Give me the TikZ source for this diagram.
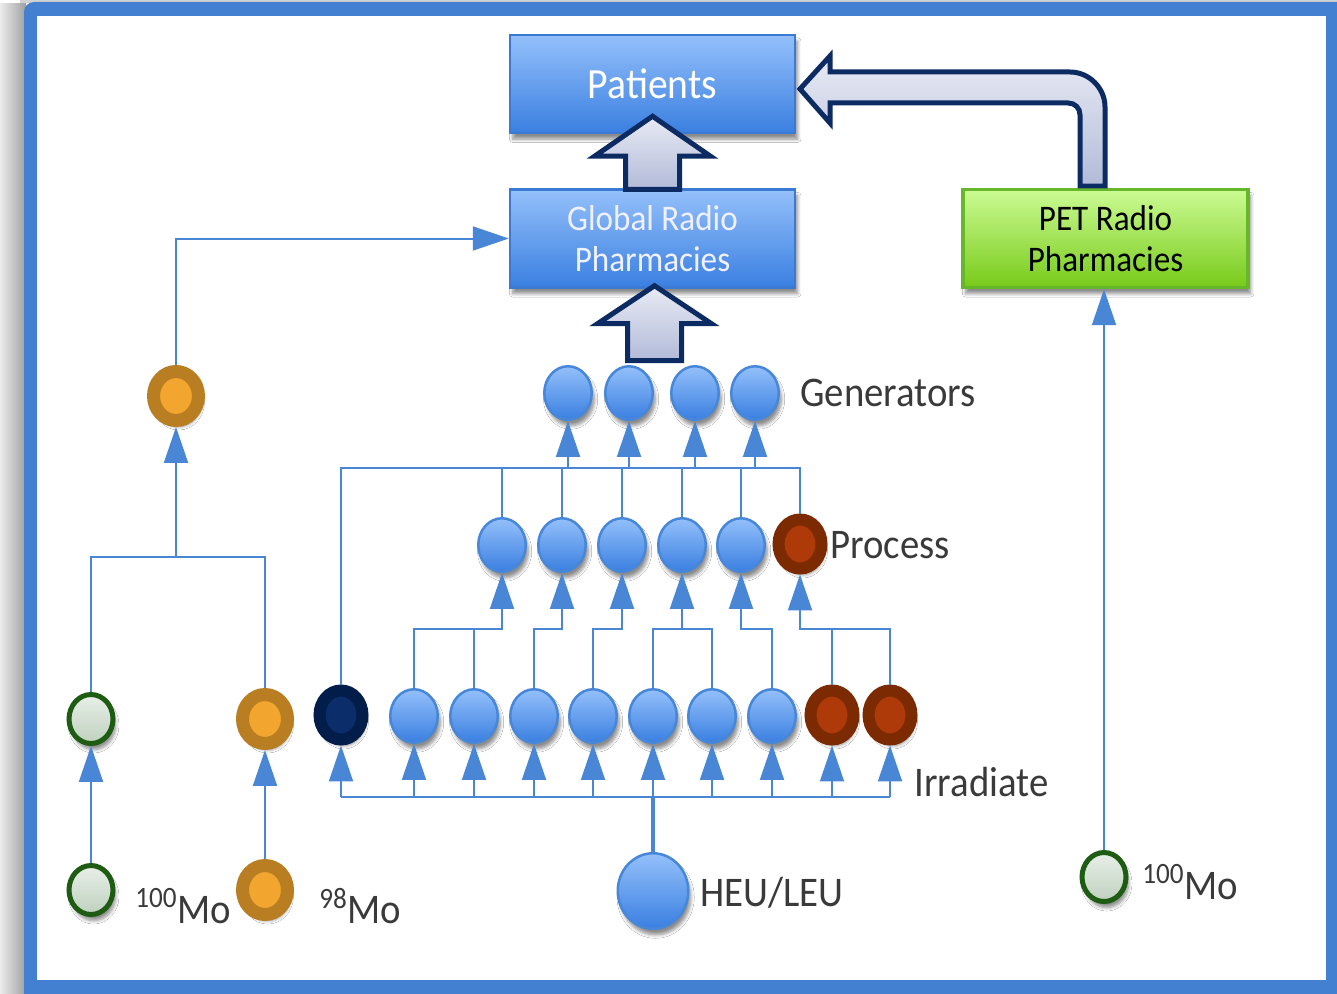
\documentclass[tikz,border=0pt]{standalone}
\usepackage{fontspec}
\setmainfont{Carlito}[FakeStretch=0.92]
\usetikzlibrary{arrows.meta,shapes.geometric,shadows.blur,calc}

\definecolor{frameblue}{HTML}{4380D1}
\definecolor{linkblue}{HTML}{4A86D6}
\definecolor{nodetop}{HTML}{94C0FA}
\definecolor{nodebot}{HTML}{3A7FE1}
\definecolor{nodeedge}{HTML}{4787DA}
\definecolor{boxedge}{HTML}{3B7AD2}
\definecolor{browndark}{HTML}{7B2A02}
\definecolor{brownlight}{HTML}{AE3A0A}
\definecolor{navydark}{HTML}{021D4A}
\definecolor{navylight}{HTML}{0B2D69}
\definecolor{ochredark}{HTML}{B97D22}
\definecolor{ochrelight}{HTML}{F2A52F}
\definecolor{greenring}{HTML}{1D5C12}
\definecolor{greentop}{HTML}{E8EFE8}
\definecolor{greenbot}{HTML}{BFD1BF}
\definecolor{bigedge}{HTML}{0D2B63}
\definecolor{bigtop}{HTML}{E8EBF4}
\definecolor{bigbot}{HTML}{B2BAD8}
\definecolor{pettop}{HTML}{CBFB93}
\definecolor{petbot}{HTML}{78CA1A}
\definecolor{petedge}{HTML}{66B82A}
\definecolor{labelgray}{HTML}{3A3A3A}

\newcommand{\lblfont}{\fontsize{24}{27}\selectfont}
\newcommand{\boxfont}{\fontsize{20.5}{23.5}\selectfont}

\begin{document}
\begin{tikzpicture}[x=0.02cm,y=-0.02cm,
  softshadow/.style={blur shadow={shadow xshift=1.5pt,shadow yshift=-3.5pt,shadow opacity=45,shadow blur steps=6}},
  conn/.style={draw=linkblue,line width=0.04cm},
  feed/.style={conn,-{Triangle[length=0.72cm,width=0.48cm]}},
  bnode/.style={ellipse,inner sep=0pt,minimum width=0.95cm,minimum height=1.07cm,
    draw=nodeedge,line width=0.05cm,top color=nodetop,bottom color=nodebot,softshadow},
  ringnode/.style 2 args={ellipse,inner sep=0pt,minimum width=0.86cm,minimum height=0.98cm,
    draw=#1,fill=#2,line width=0.24cm,softshadow},
  brownnode/.style={ringnode={browndark}{brownlight}},
  navynode/.style={ringnode={navydark}{navylight}},
  ochrenode/.style={ringnode={ochredark}{ochrelight},minimum width=0.9cm,minimum height=0.98cm,line width=0.26cm},
  greennode/.style={ellipse,inner sep=0pt,minimum width=0.88cm,minimum height=0.98cm,
    draw=greenring,line width=0.1cm,top color=greentop,bottom color=greenbot,softshadow},
  bluebox/.style={rectangle,minimum width=5.7cm,minimum height=1.96cm,draw=boxedge,line width=0.05cm,
    top color=nodetop,bottom color=nodebot,softshadow,align=center},
  greenbox/.style={rectangle,minimum width=5.7cm,minimum height=1.96cm,draw=petedge,line width=0.07cm,
    top color=pettop,bottom color=petbot,softshadow,align=center},
  blockarrow/.style={draw=bigedge,line width=0.1cm,line join=miter,top color=bigtop,bottom color=bigbot},
  lbl/.style={text=labelgray,font=\lblfont,anchor=west,inner sep=0pt}
]
\useasboundingbox (0,0) rectangle (1337,993);
\clip (0,0) rectangle (1337,993);

% page frame
\fill[white] (0,0) rectangle (1337,993);
\shade[left color=gray!15,right color=gray!75] (0,4) rectangle (26,993);
\fill[gray!35] (20,0) rectangle (1337,3);
\fill[frameblue,rounded corners=0.2cm] (24,2) rectangle (1370,1030);
\fill[white] (37,16) rectangle (1326,980);

% boxes
\node[bluebox,text=white,font=\fontsize{24.5}{28}\selectfont] (patients) at (652.5,84) {Patients};
\node[bluebox,text=white!94!blue,font=\boxfont] (global) at (652.5,238.5) {Global Radio\\Pharmacies};
\node[greenbox,text=black,font=\boxfont] (pet) at (1105.5,238.5) {PET Radio\\Pharmacies};

% generators
\node[bnode] (g1) at (568,393) {};
\node[bnode] (g2) at (629,393) {};
\node[bnode] (g3) at (695,393) {};
\node[bnode] (g4) at (755,393) {};
\node[lbl] (genlbl) at (800,393) {Generators};

% processing
\node[bnode] (p1) at (502,545) {};
\node[bnode] (p2) at (562,545) {};
\node[bnode] (p3) at (622,545) {};
\node[bnode] (p4) at (682,545) {};
\node[bnode] (p5) at (741,545) {};
\node[brownnode] (p6) at (800,544) {};
\node[lbl] (proclbl) at (830,545) {Process};

% irradiation targets
\node[navynode] (i0) at (341,715) {};
\node[bnode] (i1) at (414,716) {};
\node[bnode] (i2) at (474,716) {};
\node[bnode] (i3) at (534,716) {};
\node[bnode] (i4) at (593,716) {};
\node[bnode] (i5) at (653,716) {};
\node[bnode] (i6) at (712,716) {};
\node[bnode] (i7) at (772,716) {};
\node[brownnode] (i8) at (832,715) {};
\node[brownnode] (i9) at (890,715) {};
\node[lbl] (irrlbl) at (914,782) {Irradiate};

% uranium source
\node[bnode,minimum width=1.41cm,minimum height=1.51cm] (heu) at (653,891) {};
\node[lbl] (heulbl) at (700,893) {HEU/LEU};

% accelerator route (left)
\node[greennode] (ga) at (91,719) {};
\node[greennode] (gb) at (91,890) {};
\node[ochrenode] (oa) at (265,719) {};
\node[ochrenode] (ob) at (265,890) {};
\node[ochrenode] (ot) at (176,396) {};
\node[lbl] (mo100a) at (135,906) {\textsuperscript{100}Mo};
\node[lbl] (mo98) at (319,906) {\textsuperscript{98}Mo};

% cyclotron route (right)
\node[greennode] (gr) at (1104,877) {};
\node[lbl] (mo100b) at (1142,882) {\textsuperscript{100}Mo};

% bus rows
\coordinate (ibus) at (341,797);
\coordinate (brow) at (414,629);
\coordinate (gbus) at (341,468);
\coordinate (lrow) at (91,557);

% irradiation feed
\draw[conn] (i0 |- ibus) -- (i9 |- ibus);
\draw[conn,line width=0.08cm] (heu) -- (heu |- ibus);
\foreach \n in {i0,i1,i2,i3,i4,i5,i6,i7,i8,i9}
  \draw[feed] (\n |- ibus) -- (\n);

% targets to processing
\draw[feed] (i1) -- (i1 |- brow) -| (p1);
\draw[conn] (i2) -- (i2 |- brow);
\draw[feed] (i3) -- (i3 |- brow) -| (p2);
\draw[feed] (i4) -- (i4 |- brow) -| (p3);
\draw[conn] (i5) -- (i5 |- brow) -- (i6 |- brow) -- (i6);
\draw[feed] (p4 |- brow) -- (p4);
\draw[feed] (i7) -- (i7 |- brow) -| (p5);
\draw[feed] (i9) -- (i9 |- brow) -| (p6);
\draw[conn] (i8) -- (i8 |- brow);

% processing to generators
\draw[conn] (i0) -- (i0 |- gbus) -- (p6 |- gbus) -- (p6);
\foreach \n in {p1,p2,p3,p4,p5}
  \draw[conn] (\n) -- (\n |- gbus);
\foreach \n in {g1,g2,g3,g4}
  \draw[feed] (\n |- gbus) -- (\n);

% left branch
\draw[feed] (gb) -- (ga);
\draw[feed] (ob) -- (oa);
\draw[conn] (ga) -- (ga |- lrow) -- (oa |- lrow) -- (oa);
\draw[feed] (ot |- lrow) -- (ot);
\draw[feed] (ot) |- (global);

% right branch
\draw[feed] (gr) -- (gr |- pet.south);

% block arrows
\path[blockarrow] ($(global.north)+(-27,1)$) -- ($(patients.south)+(-27,22)$)
  -- ($(patients.south)+(-58,22)$) -- ($(patients.south)+(0,-18)$)
  -- ($(patients.south)+(58,22)$) -- ($(patients.south)+(27,22)$)
  -- ($(global.north)+(27,1)$) -- cycle;
\path[blockarrow] ($(global.south)+(-25,72)$) -- ($(global.south)+(-25,35)$)
  -- ($(global.south)+(-55,35)$) -- ($(global.south)+(2,-3)$)
  -- ($(global.south)+(59,35)$) -- ($(global.south)+(29,35)$)
  -- ($(global.south)+(29,72)$) -- cycle;
\path[blockarrow] (1105,186) -- (1105,107) .. controls (1105,88) and (1089,72) .. (1070,72)
  -- (830,72) -- (830,56) -- (800,89) -- (830,123) -- (830,103) -- (1068,103)
  .. controls (1075,103) and (1080,108) .. (1080,115) -- (1080,186) -- cycle;
\end{tikzpicture}
\end{document}
